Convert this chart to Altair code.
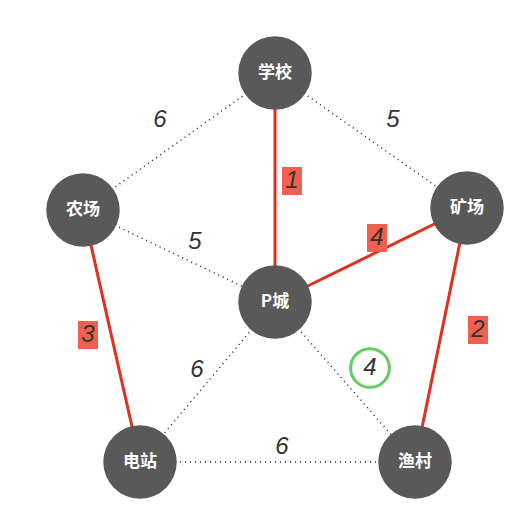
import altair as alt
import pandas as pd

node_names = ["学校", "农场", "矿场", "P城", "电站", "渔村"]
node_x = [275, 83, 467, 275, 140, 415]
node_y = [73, 210, 208, 302, 462, 462]

edge_from = ["学校", "学校", "学校", "农场", "矿场", "农场", "矿场", "P城", "P城", "电站"]
edge_to = ["农场", "矿场", "P城", "P城", "P城", "电站", "渔村", "电站", "渔村", "渔村"]
edge_weight = [6, 5, 1, 5, 4, 3, 2, 6, 4, 6]
edge_chosen = [False, False, True, False, True, True, True, False, False, False]
label_x = [160, 393, 292, 195, 377, 88, 478, 197, 370, 282]
label_y = [120, 120, 181, 242, 238, 335, 330, 370, 368, 447]
label_circled = [False, False, False, False, False, False, False, False, True, False]

pos = dict(zip(node_names, zip(node_x, node_y)))
nodes = pd.DataFrame({"name": node_names, "x": node_x, "y": node_y})
edges = pd.DataFrame({
    "x": [pos[a][0] for a in edge_from], "y": [pos[a][1] for a in edge_from],
    "x2": [pos[b][0] for b in edge_to], "y2": [pos[b][1] for b in edge_to],
    "w": edge_weight, "chosen": edge_chosen,
    "lx": label_x, "ly": label_y, "circled": label_circled,
})

xs = alt.Scale(domain=[8, 512])
ys = alt.Scale(domain=[508, 8])
X = alt.X("x:Q", scale=xs, axis=None)
Y = alt.Y("y:Q", scale=ys, axis=None)
LX = alt.X("lx:Q", scale=xs, axis=None)
LY = alt.Y("ly:Q", scale=ys, axis=None)

base = alt.Chart(edges)
dotted = base.transform_filter("!datum.chosen").mark_rule(
    color="#222", strokeWidth=1.5, strokeDash=[1, 4]
).encode(x=X, y=Y, x2="x2:Q", y2="y2:Q")
red = base.transform_filter("datum.chosen").mark_rule(
    color="#e0301e", strokeWidth=3
).encode(x=X, y=Y, x2="x2:Q", y2="y2:Q")

boxes = base.transform_filter("datum.chosen").transform_calculate(
    bx="datum.lx - 10", bx2="datum.lx + 10", by="datum.ly - 14", by2="datum.ly + 14"
).mark_rect(color="#f0604e").encode(
    x=alt.X("bx:Q", scale=xs, axis=None), x2="bx2:Q",
    y=alt.Y("by:Q", scale=ys, axis=None), y2="by2:Q")

green = base.transform_filter("datum.circled").mark_point(
    shape="circle", size=1500, color="#1fb81f", strokeWidth=3, filled=False
).encode(x=LX, y=LY)

labels = base.mark_text(
    fontSize=24, fontStyle="italic", fontWeight=300, font="Helvetica Neue, Liberation Sans", color="#333"
).encode(x=LX, y=LY, text="w:Q")

circles = alt.Chart(nodes).mark_circle(size=5400, color="#595959", opacity=1).encode(x=X, y=Y)
names = alt.Chart(nodes).mark_text(
    fontSize=17, fontWeight="bold", color="white", font="Noto Sans CJK SC"
).encode(x=X, y=Y, text="name:N")

chart = alt.layer(dotted, red, boxes, green, labels, circles, names).properties(
    width=504, height=500, padding=0, autosize="none"
).configure_view(stroke=None)

chart.save("out.html", embed_options={"renderer": "svg", "actions": False})
